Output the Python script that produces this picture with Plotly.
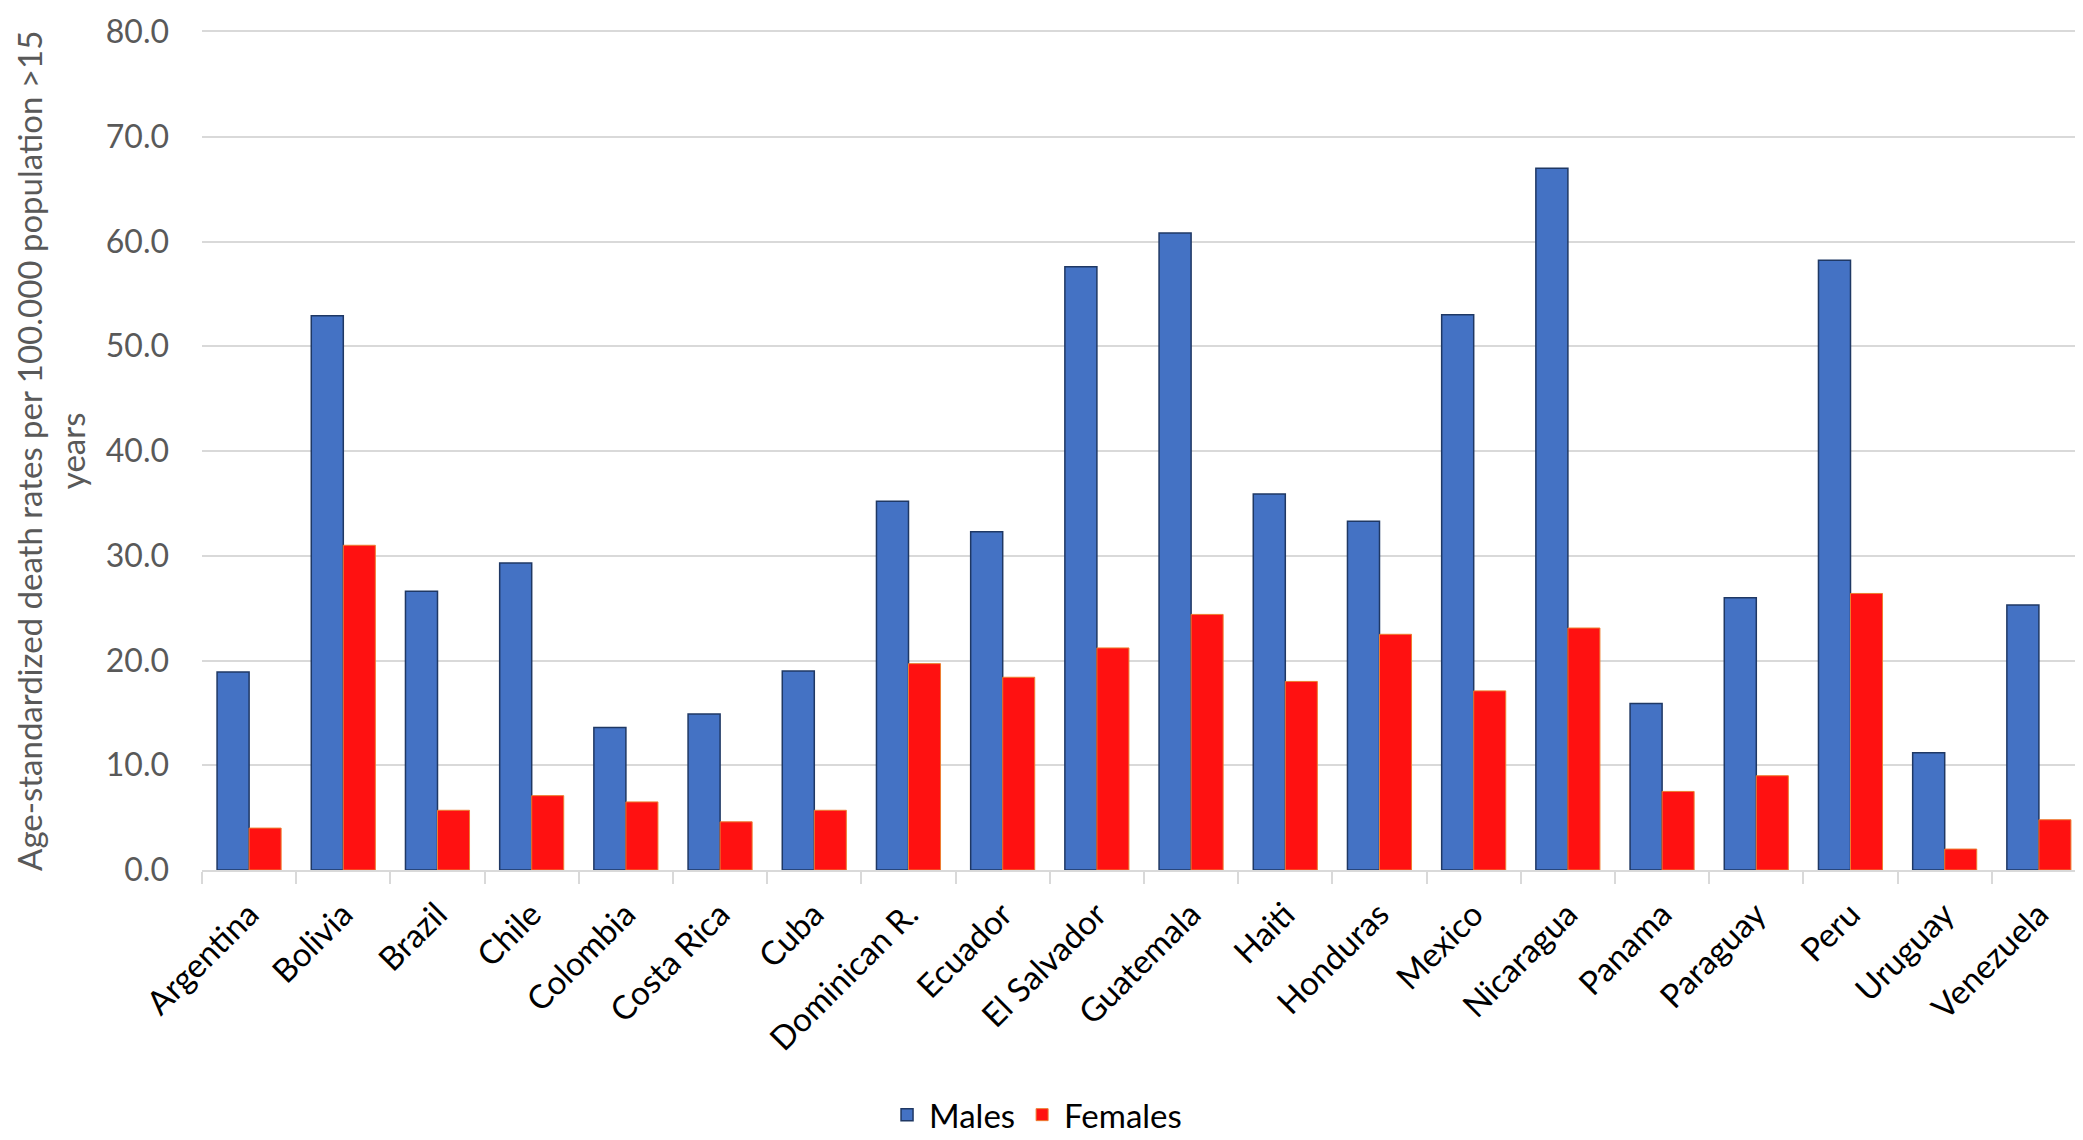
import plotly.graph_objects as go

countries = ["Argentina", "Bolivia", "Brazil", "Chile", "Colombia", "Costa Rica", "Cuba",
             "Dominican R.", "Ecuador", "El Salvador", "Guatemala", "Haiti", "Honduras",
             "Mexico", "Nicaragua", "Panama", "Paraguay", "Peru", "Uruguay", "Venezuela"]
males = [18.9, 52.9, 26.6, 29.3, 13.6, 14.9, 19.0, 35.2, 32.3, 57.6, 60.8, 35.9, 33.3,
         53.0, 67.0, 15.9, 26.0, 58.2, 11.2, 25.3]
females = [4.0, 31.0, 5.7, 7.1, 6.5, 4.6, 5.7, 19.7, 18.4, 21.2, 24.4, 18.0, 22.5,
           17.1, 23.1, 7.5, 9.0, 26.4, 2.0, 4.8]
y_ticks = [0, 10, 20, 30, 40, 50, 60, 70, 80]
y_tick_labels = ["0.0", "10.0", "20.0", "30.0", "40.0", "50.0", "60.0", "70.0", "80.0"]
y_title = "Age-standardized death rates per 100.000 population >15<br>years"

FONT = "Lato, Carlito, Open Sans, sans-serif"

fig = go.Figure()
fig.add_trace(go.Bar(x=countries, y=males, name="Males",
                     marker=dict(color="#4472C4", line=dict(color="#1F3864", width=1.5))))
fig.add_trace(go.Bar(x=countries, y=females, name="Females",
                     marker=dict(color="#FF1111", line=dict(color="#ED7D31", width=1))))

fig.update_layout(
    width=2083, height=1140,
    margin=dict(l=194, r=5, t=24, b=259),
    paper_bgcolor="white", plot_bgcolor="white",
    barmode="group", bargap=0.32, bargroupgap=0,
    font=dict(family=FONT, color="#595959"),
    legend=dict(orientation="h", x=0.4427, xanchor="center", y=-0.292, yanchor="middle",
                font=dict(size=33, color="black"), itemwidth=34, traceorder="normal"),
    showlegend=True,
)
fig.update_xaxes(
    tickangle=-45, tickfont=dict(size=33, color="black", family=FONT),
    showline=True, linecolor="#D9D9D9", linewidth=2, mirror=True,
    ticks="outside", tickson="boundaries", ticklen=12, tickcolor="#D9D9D9", tickwidth=2,
    showgrid=False, ticklabelstandoff=10, automargin=False,
)
fig.update_yaxes(
    range=[0, 80], tickvals=y_ticks, ticktext=y_tick_labels,
    tickfont=dict(size=32, color="#595959", family=FONT),
    showgrid=True, gridcolor="#D9D9D9", gridwidth=2,
    zeroline=False, showline=False, ticklabelstandoff=32, ticklabeloverflow="allow",
    automargin=False,
)
fig.add_annotation(
    text=y_title, xref="paper", yref="paper", x=-0.0807, y=0.5,
    xanchor="center", yanchor="middle", textangle=-90, showarrow=False,
    font=dict(size=33, color="#595959", family=FONT), align="center",
)

fig.write_html("out.html")
